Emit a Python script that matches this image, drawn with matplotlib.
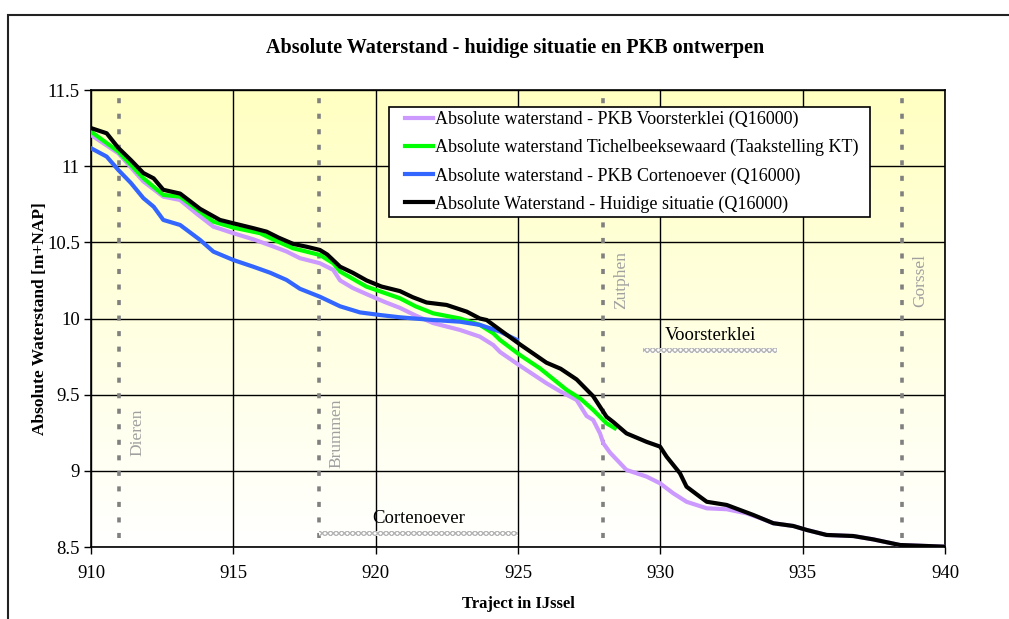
import matplotlib.pyplot as plt
import numpy as np
from matplotlib.patches import Rectangle

# -----------------------
# data (km along the IJssel, water level in m+NAP)
km_huidig = [910.0, 910.55, 910.96, 911.4, 911.84, 912.2, 912.54, 913.13, 913.83, 914.53,
             915.0, 915.7, 916.17, 916.6, 917.1, 917.6, 918.04, 918.3, 918.75, 919.2,
             919.68, 920.2, 920.85, 921.3, 921.79, 922.49, 923.2, 923.66, 923.9, 924.37,
             925.07, 926.0, 926.5, 927.06, 927.64, 928.11, 928.35, 928.81, 929.52, 929.99,
             930.22, 930.69, 930.92, 931.39, 931.63, 932.33, 933.27, 933.97, 934.67, 935.14,
             935.84, 936.78, 937.48, 938.42, 940.0]
wl_huidig = [11.25, 11.216, 11.12, 11.04, 10.955, 10.92, 10.845, 10.82, 10.72, 10.647,
             10.625, 10.593, 10.57, 10.53, 10.49, 10.47, 10.45, 10.42, 10.34, 10.3,
             10.25, 10.21, 10.18, 10.14, 10.105, 10.089, 10.045, 10.0, 9.99, 9.925,
             9.83, 9.71, 9.67, 9.6, 9.49, 9.355, 9.32, 9.246, 9.19, 9.159,
             9.093, 8.984, 8.896, 8.83, 8.797, 8.776, 8.71, 8.656, 8.638, 8.612,
             8.579, 8.572, 8.55, 8.513, 8.502]

km_voorst = [910.0, 910.96, 911.84, 912.54, 913.13, 913.7, 914.3, 915.0, 915.7, 916.3,
             916.87, 917.34, 918.04, 918.51, 918.75, 919.2, 919.68, 920.3, 920.85, 921.4,
             922.02, 922.96, 923.66, 924.13, 924.37, 925.07, 926.0, 926.5, 927.06, 927.41,
             927.64, 927.88, 928.0, 928.23, 928.81, 929.52, 929.99, 930.45, 930.92, 931.63,
             932.33, 933.03, 933.5, 933.97, 934.67, 935.14, 935.84, 936.78, 937.48, 938.42,
             940.0]
wl_voorst = [11.205, 11.085, 10.9, 10.8, 10.778, 10.69, 10.603, 10.56, 10.52, 10.48,
             10.44, 10.396, 10.363, 10.319, 10.25, 10.2, 10.16, 10.11, 10.07, 10.02,
             9.97, 9.925, 9.881, 9.826, 9.78, 9.69, 9.575, 9.52, 9.465, 9.36,
             9.334, 9.246, 9.18, 9.12, 9.006, 8.962, 8.918, 8.853, 8.797, 8.754,
             8.748, 8.721, 8.69, 8.656, 8.638, 8.612, 8.579, 8.572, 8.55, 8.513,
             8.502]

km_tichel = [910.0, 910.96, 911.84, 912.54, 913.13, 913.7, 914.3, 915.0, 915.94, 916.5,
             917.1, 918.04, 918.51, 918.75, 919.68, 920.85, 921.4, 922.02, 922.96, 923.66,
             924.13, 924.37, 925.07, 925.77, 926.71, 927.18, 927.64, 928.11, 928.4]
wl_tichel = [11.227, 11.096, 10.921, 10.811, 10.8, 10.72, 10.636, 10.597, 10.56, 10.51,
             10.461, 10.417, 10.363, 10.308, 10.209, 10.133, 10.08, 10.034, 10.0, 9.958,
             9.903, 9.859, 9.76, 9.673, 9.531, 9.476, 9.4, 9.312, 9.28]

km_corten = [910.0, 910.55, 910.96, 911.4, 911.84, 912.2, 912.54, 913.13, 913.83, 914.3,
             915.0, 915.7, 916.3, 916.87, 917.34, 918.04, 918.75, 919.45, 920.15, 920.85,
             922.02, 922.96, 923.66, 924.37, 924.95]
wl_corten = [11.118, 11.063, 10.975, 10.89, 10.79, 10.734, 10.647, 10.614, 10.516, 10.439,
             10.384, 10.34, 10.3, 10.253, 10.195, 10.143, 10.08, 10.04, 10.023, 10.008,
             9.99, 9.979, 9.958, 9.914, 9.86]

labels = ['Absolute waterstand - PKB Voorsterklei (Q16000)',
          'Absolute waterstand Tichelbeeksewaard (Taakstelling KT)',
          'Absolute waterstand - PKB Cortenoever (Q16000)',
          'Absolute Waterstand - Huidige situatie (Q16000)']

# towns along the river
towns = ['Dieren', 'Brummen', 'Zutphen', 'Gorssel']
town_km = [911.0, 918.0, 928.0, 938.5]
town_label_y = [9.25, 9.25, 10.25, 10.25]

# project areas
areas = ['Cortenoever', 'Voorsterklei']
area_start = [918.0, 929.4]
area_end = [925.0, 934.1]
area_y = [8.59, 9.79]

# -----------------------
plt.rcParams['font.family'] = ['Liberation Serif', 'DejaVu Serif']

W, H = 1009, 619
fig = plt.figure(figsize=(W / 100, H / 100), dpi=100)
ax = fig.add_axes([91 / W, 1 - 547 / H, 854 / W, 457 / H])

# yellow -> white background
grad = np.linspace(1, 0, 256)
bg = np.ones((256, 1, 3))
bg[:, 0, 2] = 1 - 0.24 * grad
ax.imshow(bg, extent=[0, 1, 0, 1], transform=ax.transAxes, aspect='auto', zorder=0)

ax.set_xlim(910, 940)
ax.set_ylim(8.5, 11.5)
ax.set_xticks(np.arange(910, 941, 5))
ax.set_yticks(np.arange(8.5, 11.51, 0.5))
ax.set_yticklabels(['8.5', '9', '9.5', '10', '10.5', '11', '11.5'])
ax.grid(True, color='black', lw=1.0, zorder=1)
ax.tick_params(direction='out', length=5, width=1, labelsize=13.5)
ax.tick_params(axis='x', pad=8)
ax.tick_params(axis='y', pad=3)
for s in ax.spines.values():
    s.set_linewidth(1.2)

# town markers
for name, k, ly in zip(towns, town_km, town_label_y):
    ax.vlines(k, 8.56, 11.47, colors='#808080', lw=2.6, linestyles=(0, (1.4, 2.9)), zorder=2)
    ax.text(k + 0.62, ly, name, rotation=90, color='#a0a0a0', fontsize=12.5,
            ha='center', va='center', zorder=2)

# project areas
for name, a, b, y in zip(areas, area_start, area_end, area_y):
    ax.fill_between([a, b], y - 0.016, y + 0.016, facecolor='white', edgecolor='#b4b4b4',
                    hatch='xxxxxx', lw=0, zorder=2)
    ax.text((a + b) / 2, y + 0.1, name, ha='center', va='center', fontsize=13.5, zorder=3)

ax.plot(km_voorst, wl_voorst, color='#cc99ff', lw=3, label=labels[0], zorder=4)
ax.plot(km_tichel, wl_tichel, color='#00ff00', lw=3, label=labels[1], zorder=4)
ax.plot(km_corten, wl_corten, color='#3366ff', lw=3, label=labels[2], zorder=4)
ax.plot(km_huidig, wl_huidig, color='black', lw=3, label=labels[3], zorder=5)

# legend box drawn separately so the padding can match the original
box = Rectangle(((389 - 91) / 854, 1 - (217 - 90) / 457), 481 / 854, 110 / 457,
                transform=ax.transAxes, facecolor='white', edgecolor='black', lw=1.2, zorder=9)
ax.add_patch(box)
leg = ax.legend(loc='upper left', bbox_to_anchor=((405 - 91) / 854, 1 - (111 - 90) / 457),
                fontsize=13, frameon=False, handlelength=1.55, handletextpad=0.12,
                borderpad=0, borderaxespad=0, labelspacing=0.6)
leg.set_zorder(10)

fig.text(515 / W, 1 - 48 / H, 'Absolute Waterstand - huidige situatie en PKB ontwerpen',
         ha='center', va='center', fontsize=14.5, fontweight='bold')
ax.set_xlabel('Traject in IJssel', fontsize=12, fontweight='bold', labelpad=10)
ax.set_ylabel('Absolute Waterstand [m+NAP]', fontsize=12.5, fontweight='bold', labelpad=-1)

# outer chart frame
fig.add_artist(Rectangle((8 / W, -0.2), 1.2, 0.2 + (H - 15) / H,
                         transform=fig.transFigure, fill=False, lw=1.5, edgecolor='#222222'))

fig.savefig('out.png', dpi=100)
